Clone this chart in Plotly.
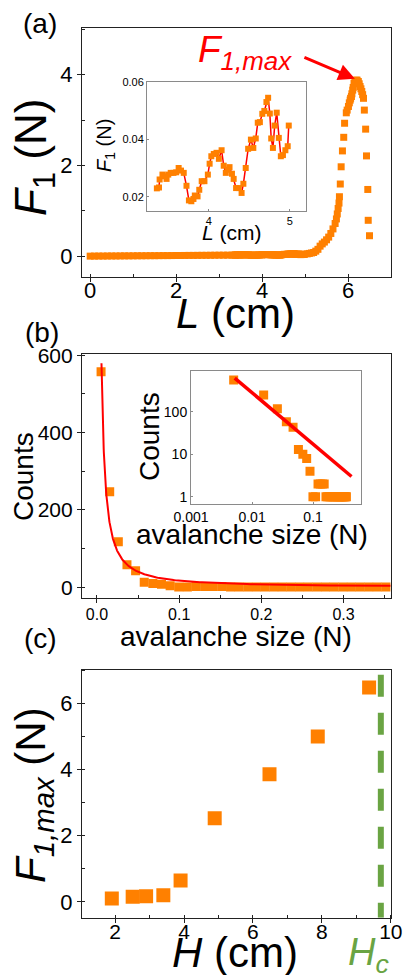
import plotly.graph_objects as go

W, H = 406, 975
FONT = "Liberation Sans, Arial, sans-serif"
ORANGE = "#FF8000"
RED = "#FF0000"
GREEN = "#6AA443"

# ---------------- (a) data ----------------
# low, flat part of the force curve
L_low = [0.0, 0.1, 0.2, 0.3, 0.4, 0.5, 0.6, 0.7, 0.8, 0.9, 1.0, 1.1, 1.2, 1.3, 1.4, 1.5, 1.6,
         1.7, 1.8, 1.9, 2.0, 2.1, 2.2, 2.3, 2.4, 2.5, 2.6, 2.7, 2.8, 2.9, 3.0, 3.1, 3.2, 3.3]
F_low = [0.000, 0.001, 0.002, 0.002, 0.003, 0.004, 0.004, 0.005, 0.006, 0.006, 0.007, 0.008,
         0.008, 0.009, 0.010, 0.010, 0.011, 0.012, 0.012, 0.013, 0.014, 0.014, 0.015, 0.016,
         0.016, 0.017, 0.018, 0.018, 0.019, 0.020, 0.021, 0.021, 0.022, 0.022]
# zoomed stick-slip region (inset of panel a)
L_ins = [3.357, 3.383, 3.391, 3.426, 3.455, 3.477, 3.498, 3.528, 3.562, 3.596, 3.626, 3.655,
         3.689, 3.723, 3.753, 3.783, 3.809, 3.826, 3.860, 3.881, 3.911, 3.945, 3.987, 4.009,
         4.030, 4.060, 4.094, 4.123, 4.157, 4.183, 4.209, 4.234, 4.255, 4.285, 4.306, 4.336,
         4.370, 4.404, 4.426, 4.455, 4.485, 4.519, 4.549, 4.579, 4.604, 4.630, 4.660, 4.685,
         4.711, 4.732, 4.753, 4.770, 4.791, 4.813, 4.838, 4.864, 4.889, 4.915, 4.945, 4.974,
         4.987]
F_ins = [0.0229, 0.0232, 0.0260, 0.0277, 0.0271, 0.0262, 0.0277, 0.0283, 0.0283, 0.0285,
         0.0300, 0.0291, 0.0283, 0.0238, 0.0187, 0.0184, 0.0192, 0.0204, 0.0201, 0.0224,
         0.0254, 0.0254, 0.0277, 0.0315, 0.0341, 0.0349, 0.0353, 0.0332, 0.0362, 0.0308,
         0.0283, 0.0294, 0.0303, 0.0280, 0.0262, 0.0230, 0.0230, 0.0213, 0.0245, 0.0300,
         0.0367, 0.0399, 0.0370, 0.0403, 0.0458, 0.0460, 0.0489, 0.0499, 0.0530, 0.0545,
         0.0490, 0.0403, 0.0370, 0.0448, 0.0493, 0.0405, 0.0341, 0.0345, 0.0362, 0.0376,
         0.0448]
# rise, peak and drop
L_high = [5.05, 5.1, 5.15, 5.2, 5.25, 5.3, 5.35, 5.4, 5.45, 5.5, 5.55, 5.6, 5.65, 5.7, 5.73,
          5.75, 5.77, 5.79, 5.80, 5.82, 5.84, 5.87, 5.90, 5.92, 5.96, 5.98, 6.01, 6.03, 6.05,
          6.06, 6.08, 6.09, 6.11, 6.12, 6.14, 6.16, 6.19, 6.21, 6.24, 6.26, 6.28, 6.30, 6.32,
          6.34, 6.36, 6.38, 6.41, 6.43, 6.46, 6.47, 6.50]
F_high = [0.05, 0.06, 0.07, 0.08, 0.11, 0.15, 0.22, 0.27, 0.31, 0.36, 0.42, 0.50, 0.60, 0.72,
          0.82, 0.93, 1.05, 1.17, 1.31, 1.59, 1.97, 2.32, 2.62, 2.93, 3.16, 3.22, 3.30, 3.38,
          3.44, 3.48, 3.52, 3.58, 3.66, 3.72, 3.81, 3.85, 3.88, 3.88, 3.85, 3.80, 3.74, 3.69,
          3.63, 3.56, 3.48, 3.22, 2.80, 2.21, 1.47, 0.79, 0.45]
L_all = L_low + L_ins + L_high
F_all = F_low + F_ins + F_high
PEAK_L, PEAK_F = 6.16, 3.91

# ---------------- (b) data ----------------
aval_size = [0.0050, 0.0155, 0.0260, 0.0365, 0.0470, 0.0575, 0.0680, 0.0785, 0.0890, 0.0995,
             0.1100, 0.1205, 0.1310, 0.1415, 0.1520, 0.1625, 0.1730, 0.1835, 0.1940, 0.2045,
             0.2150, 0.2255, 0.2360, 0.2465, 0.2570, 0.2675, 0.2780, 0.2885, 0.2990, 0.3095,
             0.3200, 0.3305, 0.3410, 0.3515]
aval_counts = [557, 247, 118, 58, 43, 13, 10, 8, 4, 1, 1, 2, 2, 2, 2, 1, 1, 1, 1, 1, 1, 1, 1,
               1, 1, 1, 1, 1, 1, 1, 1, 1, 1, 1]
FIT_A, FIT_EXP = 1.068, 1.21          # power-law fit: Counts = A * s^(-b)
fit_main_x = [0.0055 * (0.357 / 0.0055) ** (i / 199) for i in range(200)]
fit_main_y = [FIT_A * s ** (-FIT_EXP) for s in fit_main_x]
fit_ins_x = [0.0052, 0.426]
fit_ins_y = [FIT_A * s ** (-FIT_EXP) for s in fit_ins_x]

# ---------------- (c) data ----------------
H_cm = [1.905, 2.51, 2.90, 3.40, 3.90, 4.89, 6.48, 7.88, 9.37]
F1max = [0.10, 0.15, 0.17, 0.20, 0.64, 2.52, 3.85, 4.99, 6.47]
HC = 9.71

fig = go.Figure()

# (a) main
fig.add_trace(go.Scatter(x=L_all, y=F_all, mode="markers", xaxis="x", yaxis="y",
                         marker=dict(symbol="square", size=7, color=ORANGE)))
# (a) inset
fig.add_trace(go.Scatter(x=L_ins, y=F_ins, mode="lines+markers", xaxis="x2", yaxis="y2",
                         line=dict(color=RED, width=1.5),
                         marker=dict(symbol="square", size=6, color=ORANGE)))
# (b) main
fig.add_trace(go.Scatter(x=aval_size, y=aval_counts, mode="markers", xaxis="x3", yaxis="y3",
                         marker=dict(symbol="square", size=9, color=ORANGE)))
fig.add_trace(go.Scatter(x=fit_main_x, y=fit_main_y, mode="lines", xaxis="x3", yaxis="y3",
                         line=dict(color=RED, width=2)))
# (b) inset
fig.add_trace(go.Scatter(x=aval_size, y=aval_counts, mode="markers", xaxis="x4", yaxis="y4",
                         marker=dict(symbol="square", size=9, color=ORANGE)))
fig.add_trace(go.Scatter(x=fit_ins_x, y=fit_ins_y, mode="lines", xaxis="x4", yaxis="y4",
                         line=dict(color=RED, width=3.5)))
# (c)
fig.add_trace(go.Scatter(x=H_cm, y=F1max, mode="markers", xaxis="x5", yaxis="y5",
                         marker=dict(symbol="square", size=14, color=ORANGE)))


def px(x):
    return x / W


def py(y):
    return 1 - y / H


def main_axis(domain, rng, dtick, fs, anchor, minor_dtick, standoff=0):
    return dict(domain=domain, range=rng, dtick=dtick, anchor=anchor, automargin=False,
                showline=True, linecolor="#222", linewidth=1.2, mirror=True,
                ticks="outside", ticklen=4, tickcolor="#222", tickwidth=1,
                minor=dict(dtick=minor_dtick, ticks="inside", ticklen=3, tickcolor="#222"),
                showgrid=False, zeroline=False, ticklabelstandoff=standoff,
                tickfont=dict(family=FONT, size=fs, color="black"))


def inset_axis(domain, rng, anchor, fs, **kw):
    d = dict(domain=domain, range=rng, anchor=anchor, automargin=False,
             showline=True, linecolor="#8a8a8a", linewidth=1, mirror=True,
             ticks="inside", ticklen=2, tickcolor="#8a8a8a",
             showgrid=False, zeroline=False,
             tickfont=dict(family=FONT, size=fs, color="black"))
    d.update(kw)
    return d


xa = [px(82), px(391)]
fig.update_layout(
    template="none",
    width=W, height=H, autosize=False, showlegend=False,
    margin=dict(l=0, r=0, t=0, b=0, pad=0),
    paper_bgcolor="white", plot_bgcolor="white",
    font=dict(family=FONT, color="black"),
    xaxis=main_axis(xa, [-0.19, 7.0], 2, 22, "y", 1, standoff=-11),
    yaxis=main_axis([py(277), py(28)], [-0.46, 5.03], 2, 22, "x", 1),
    xaxis2=inset_axis([px(147), px(306)], [3.235, 5.2], "y2", 11, dtick=1),
    yaxis2=inset_axis([py(211), py(82)], [0.015, 0.06], "x2", 11, dtick=0.02,
                      tickformat=".2f"),
    xaxis3=main_axis(xa, [-0.0182, 0.3577], 0.1, 16, "y3", 0.05, standoff=-3),
    yaxis3=main_axis([py(598.3), py(354)], [-28.4, 603], 200, 21, "x3", 100),
    xaxis4=inset_axis([px(191), px(360.7)], [-3.0, -0.22], "y4", 14, type="log",
                      tickvals=[0.001, 0.01, 0.1], ticktext=["0.001", "0.01", "0.1"]),
    yaxis4=inset_axis([py(504), py(371)], [-0.17, 2.96], "x4", 14, type="log",
                      tickvals=[1, 10, 100], ticktext=["1", "10", "100"]),
    xaxis5=main_axis(xa, [1.04, 10.005], 2, 21, "y5", 1, standoff=-9),
    yaxis5=main_axis([py(917.7), py(670)], [-0.48, 7.0], 2, 22, "x5", 1),
)
fig.update_layout(yaxis3=dict(tickformat="d"), xaxis3=dict(tickformat=".1f"))

ann = []


def text(x, y, s, size, color="black", angle=0):
    ann.append(dict(x=px(x), y=py(y), xref="paper", yref="paper", text=s, showarrow=False,
                    xanchor="center", yanchor="middle", textangle=angle,
                    font=dict(family=FONT, size=size, color=color)))


# panel letters
text(40, 24, "(a)", 28)
text(42, 332, "(b)", 28)
text(40, 638, "(c)", 28)
# panel (a) titles
text(34, 158, "<i>F</i><sub>1</sub> (N)", 44, angle=-90)
text(236, 313, "<i>L</i> (cm)", 42)
text(106, 146, "<i>F</i><sub>1</sub> (N)", 20, angle=-90)
text(232, 232, "<i>L</i> (cm)", 21)
text(245, 52, "<i>F</i><sub><i>1,max</i></sub>", 37, color=RED)
ann.append(dict(x=PEAK_L, y=PEAK_F, xref="x", yref="y", ax=-52, ay=-22, text="",
                showarrow=True, arrowhead=2, arrowsize=1.1, arrowwidth=3, arrowcolor=RED))
# panel (b) titles
text(23, 477, "Counts", 28, angle=-90)
text(236, 636, "avalanche size (N)", 28)
text(149, 437, "Counts", 28, angle=-90)
text(252, 534, "avalanche size (N)", 28)
# panel (c) titles
text(33, 795, "<i>F</i><sub><i>1,max</i></sub> (N)", 42, angle=-90)
text(235, 952, "<i>H</i> (cm)", 42)
text(368, 955, "<i>H</i><sub><i>c</i></sub>", 38, color=GREEN)

fig.update_layout(annotations=ann)
fig.add_shape(type="line", xref="x5", yref="y5", x0=HC, x1=HC, y0=6.86, y1=-0.48,
              line=dict(color=GREEN, width=6, dash="22px,16px"))

fig.write_html("out.html", config={"displayModeBar": False},
               post_script="document.body.style.margin='0px';"
                           "document.body.style.overflow='hidden';")
